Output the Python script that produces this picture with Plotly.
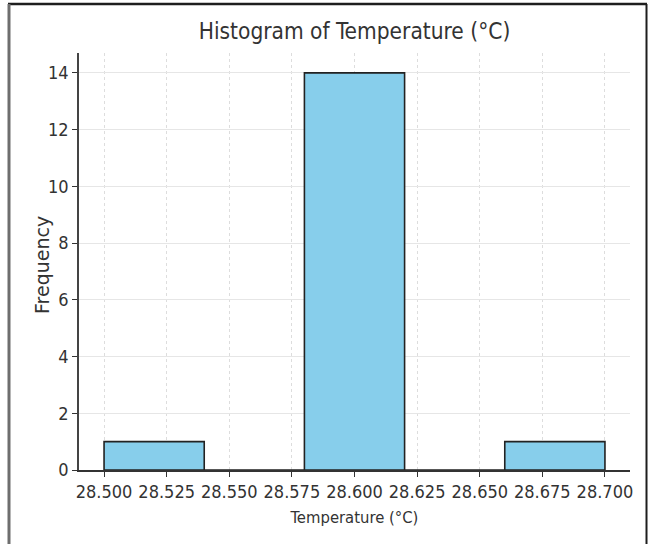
import plotly.graph_objects as go

# Data
bin_edges = [28.50, 28.54, 28.58, 28.62, 28.66, 28.70]
counts = [1, 0, 14, 0, 1]
x_ticks = [28.500, 28.525, 28.550, 28.575, 28.600, 28.625, 28.650, 28.675, 28.700]
y_ticks = [0, 2, 4, 6, 8, 10, 12, 14]

centers = [(a + b) / 2 for a, b in zip(bin_edges[:-1], bin_edges[1:])]
widths = [b - a for a, b in zip(bin_edges[:-1], bin_edges[1:])]

W, H = 649, 544
L, R, T, B = 79, 19, 53, 74
pw, ph = W - L - R, H - T - B

def px(x):
    return (x - L) / pw

def py(y):
    return (H - B - y) / ph

FONT = "DejaVu Sans Condensed, Liberation Sans Narrow, DejaVu Sans, sans-serif"

fig = go.Figure()
fig.add_trace(go.Bar(
    x=centers, y=counts, width=widths,
    marker=dict(color="#87CEEB", line=dict(color="#222222", width=1.6)),
))

fig.update_layout(
    width=W, height=H,
    margin=dict(l=L, r=R, t=T, b=B, autoexpand=False),
    paper_bgcolor="white", plot_bgcolor="white",
    showlegend=False,
    title=dict(text="Histogram of Temperature (°C)", x=0.5, xref="paper",
               y=1 - 31 / H, yref="container", yanchor="middle", xanchor="center",
               font=dict(family=FONT, size=22.5, color="#333333")),
    xaxis=dict(
        range=[28.49, 28.71], tickvals=x_ticks,
        ticktext=[f"{v:.3f}" for v in x_ticks],
        ticks="outside", ticklen=5, tickcolor="#333333", tickwidth=1.2,
        showline=True, linecolor="#333333", linewidth=1.5,
        showgrid=True, gridcolor="#dddddd", griddash="dot", gridwidth=1,
        zeroline=False,
        tickfont=dict(family=FONT, size=18, color="#333333"),
        title=dict(text="Temperature (°C)", standoff=10,
                   font=dict(family=FONT, size=16.5, color="#333333")),
    ),
    yaxis=dict(
        range=[0, 14.7], tickvals=y_ticks,
        ticks="outside", ticklen=5, tickcolor="#333333", tickwidth=1.2,
        showline=True, linecolor="#444444", linewidth=1.5,
        showgrid=True, gridcolor="#e6e6e6", gridwidth=1,
        zeroline=False,
        tickfont=dict(family=FONT, size=18, color="#333333"),
    ),
    annotations=[
        dict(text="Frequency", xref="paper", yref="paper",
             x=px(42), y=py(265), xanchor="center", yanchor="middle",
             textangle=-90, showarrow=False,
             font=dict(family="DejaVu Sans, sans-serif", size=19, color="#333333")),
    ],
    shapes=[
        dict(type="line", xref="paper", yref="paper",
             x0=px(8), x1=px(647), y0=py(4), y1=py(4),
             line=dict(color="#1e1e1e", width=2.5)),
        dict(type="line", xref="paper", yref="paper",
             x0=px(9), x1=px(9), y0=py(4), y1=py(545),
             line=dict(color="#6e6e6e", width=3)),
        dict(type="line", xref="paper", yref="paper",
             x0=px(646.5), x1=px(646.5), y0=py(4), y1=py(545),
             line=dict(color="#1e1e1e", width=2)),
    ],
)

fig.write_html("out.html")
